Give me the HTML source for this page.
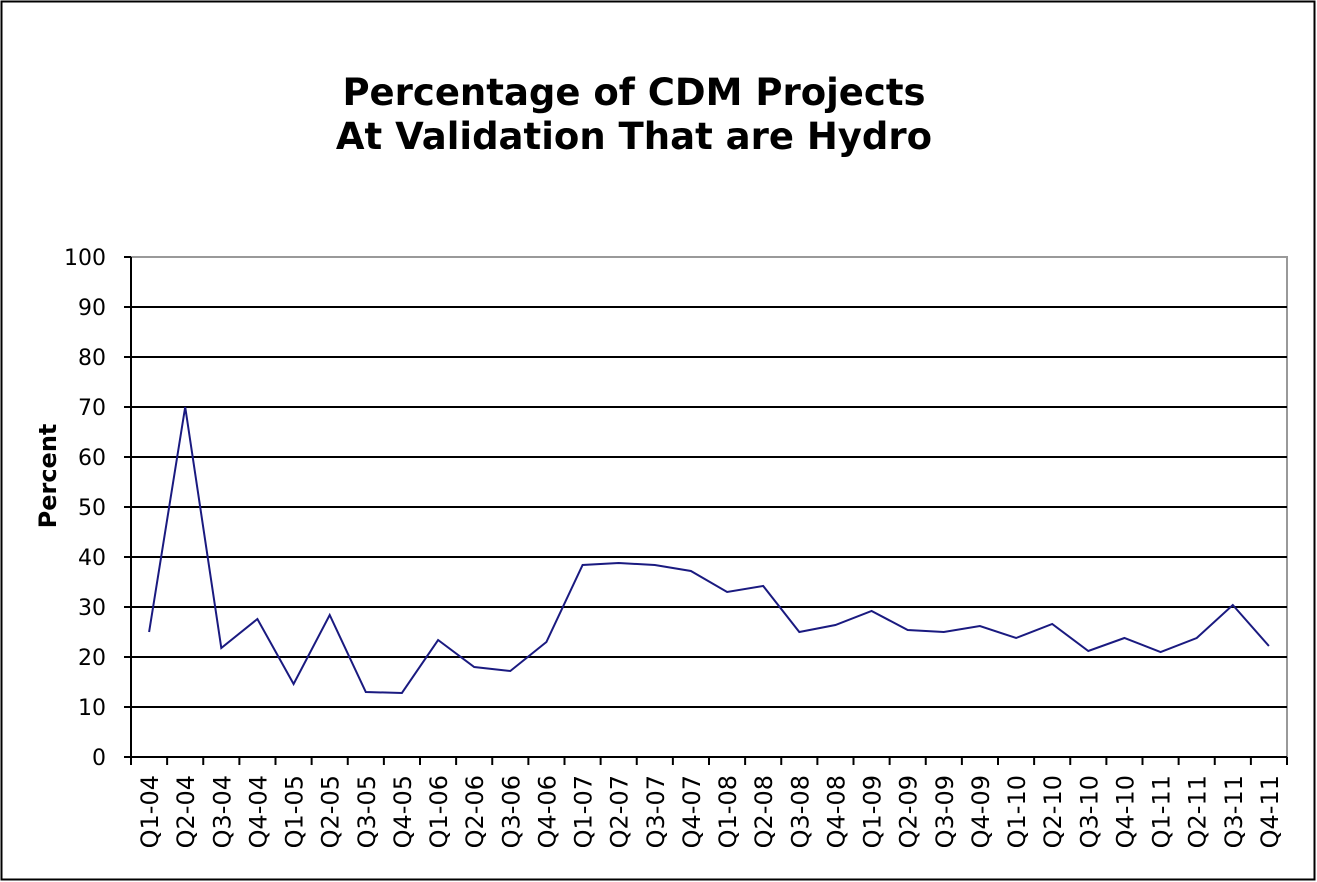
<!DOCTYPE html>
<html><head><meta charset="utf-8"><style>body{margin:0;background:#fff}svg{display:block}text{font-family:"DejaVu Sans","Liberation Sans",sans-serif}</style></head>
<body>
<svg width="1317" height="882" viewBox="0 0 1317 882" xmlns="http://www.w3.org/2000/svg">
<rect x="1.5" y="1.5" width="1313" height="878" fill="#fff" stroke="#000" stroke-width="2"/>
<text x="634" y="105" style="font-size:37px;font-weight:bold" text-anchor="middle">Percentage of CDM Projects</text>
<text x="634" y="149" style="font-size:37px;font-weight:bold" text-anchor="middle">At Validation That are Hydro</text>
<rect x="131" y="257" width="1156" height="500" fill="#fff" stroke="#999" stroke-width="2"/>
<g stroke="#000" stroke-width="2">
<line x1="131" y1="307" x2="1287" y2="307"/><line x1="131" y1="357" x2="1287" y2="357"/><line x1="131" y1="407" x2="1287" y2="407"/><line x1="131" y1="457" x2="1287" y2="457"/><line x1="131" y1="507" x2="1287" y2="507"/><line x1="131" y1="557" x2="1287" y2="557"/><line x1="131" y1="607" x2="1287" y2="607"/><line x1="131" y1="657" x2="1287" y2="657"/><line x1="131" y1="707" x2="1287" y2="707"/>
<line x1="131" y1="757" x2="1287" y2="757"/><line x1="131" y1="257" x2="131" y2="757"/>
</g>
<g id="yt" stroke="#000" stroke-width="2"></g>
<g id="yl" text-anchor="end"></g>
<g id="xt" stroke="#000" stroke-width="2"></g>
<g id="xl"></g>
<text transform="translate(56,476) rotate(-90)" style="font-size:24px;font-weight:bold" text-anchor="middle">Percent</text>
<polyline id="ser" fill="none" stroke="#1a1a80" stroke-width="2"/>
</svg>
<script>
var ns="http://www.w3.org/2000/svg";
function el(p,t,a,txt){var e=document.createElementNS(ns,t);for(var k in a)e.setAttribute(k,a[k]);if(txt)e.textContent=txt;document.getElementById(p).appendChild(e);}
for(var i=0;i<=10;i++){var y=757-50*i;el("yt","line",{x1:124,y1:y,x2:131,y2:y});el("yl","text",{x:106,y:y+8,style:"font-size:22px"},String(i*10));}
var w=1156/32;
for(var k=0;k<=32;k++){var x=131+w*k;el("xt","line",{x1:x,y1:757,x2:x,y2:765});}
var v=[25,70,21.8,27.6,14.6,28.4,13,12.8,23.4,18,17.2,23,38.4,38.8,38.4,37.2,33,34.2,25,26.4,29.2,25.4,25,26.2,23.8,26.6,21.2,23.8,21,23.8,30.4,22.2];
var pts=[];
for(var k=0;k<32;k++){var x=131+w*(k+0.5);pts.push(x.toFixed(1)+","+(757-5*v[k]));
var q="Q"+(k%4+1)+"-"+("0"+(4+Math.floor(k/4))).slice(-2);
el("xl","text",{transform:"translate("+(x+9)+",775) rotate(-90)","text-anchor":"end",style:"font-size:24px"},q);}
document.getElementById("ser").setAttribute("points",pts.join(" "));
</script>
</body></html>
